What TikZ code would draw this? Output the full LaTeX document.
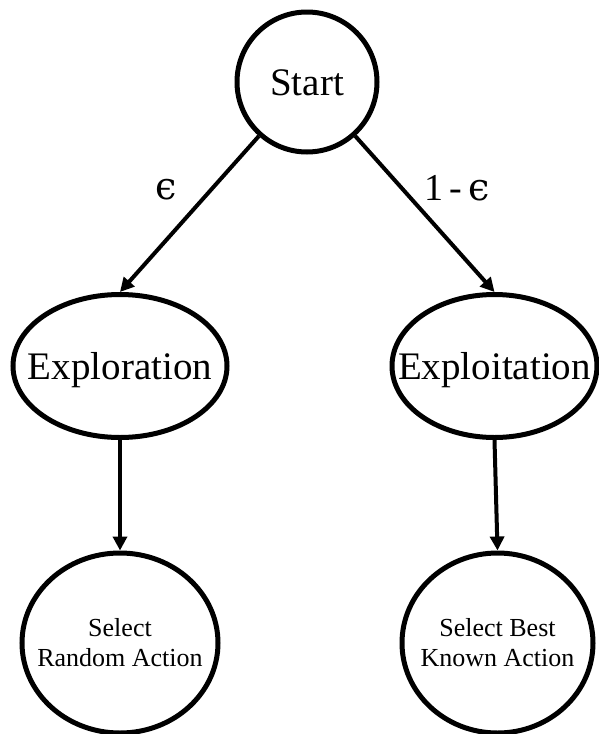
\documentclass[tikz,border=0pt]{standalone}
\usepackage{fontspec}
\setmainfont{Liberation Serif}
\newfontfamily\symbolfont{DejaVu Serif}
\usetikzlibrary{shapes.geometric,arrows.meta}
% zero-width boxes so the outline keeps its given size
\newcommand{\oneline}[1]{\makebox[0pt][c]{#1}}
\newcommand{\twolines}[2]{\makebox[0pt][c]{\begin{tabular}[b]{@{}c@{}}#1\\#2\end{tabular}}}
\begin{document}
\begin{tikzpicture}[x=1pt,y=-1pt,
  state/.style={draw=black,line width=5pt,fill=white,inner sep=0pt},
  bigtext/.style={font=\fontsize{39}{45}\selectfont,text height=26pt,text depth=0pt},
  smalltext/.style={font=\fontsize{26}{30}\selectfont,text height=47pt,text depth=0pt},
  link/.style={line width=4pt,-{Triangle[length=14pt,width=14pt]}},
  prob/.style={font=\fontsize{38}{44}\selectfont,inner sep=0pt}]
  \useasboundingbox (0,0) rectangle (598,734);

  % decision root
  \node[state,circle,minimum size=140pt,bigtext] (start) at (307,82) {\oneline{Start}};

  % the two branches
  \node[state,ellipse,minimum width=214pt,minimum height=143pt,bigtext] (explore) at (120,366) {\oneline{Exploration}};
  \node[state,ellipse,minimum width=205pt,minimum height=143pt,bigtext] (exploit) at (494.5,366) {\oneline{Exploitation}};

  % resulting actions
  \node[state,ellipse,minimum width=196pt,minimum height=180pt,smalltext] (random) at (120,643) {\twolines{Select}{Random Action}};
  \node[state,ellipse,minimum width=191pt,minimum height=180pt,smalltext] (best) at (497.5,643) {\twolines{Select Best}{Known Action}};

  % connectors
  \draw[link] (start) -- (explore.north);
  \draw[link] (start) -- (exploit.north);
  \draw[link] (explore.south) -- (random.north);
  \draw[link] (exploit.south) -- (best.north);

  % branch probabilities
  \node[prob] (peps) at (166,190) {{\symbolfont ϵ}};
  \node[prob] (pone) at (457,188) {1\,-\,{\symbolfont ϵ}};
\end{tikzpicture}
\end{document}
